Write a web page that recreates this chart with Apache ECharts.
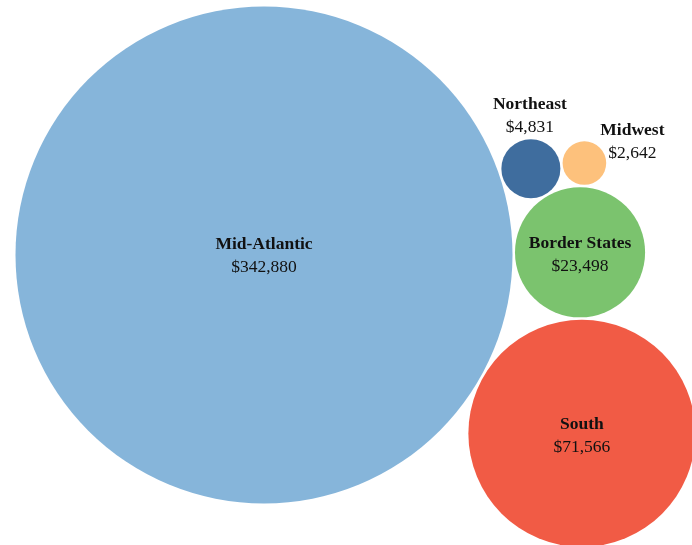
<!DOCTYPE html>
<html>
<head>
<meta charset="utf-8">
<style>html,body{margin:0;padding:0;background:#fff;}#c{width:692px;height:545px;}</style>
<script src="https://cdn.jsdelivr.net/npm/echarts@6/dist/echarts.min.js"></script>
</head>
<body>
<div id="c"></div>
<script>
// ---- data ----
var regions = ['Mid-Atlantic', 'South', 'Border States', 'Northeast', 'Midwest'];
var amounts = [342880, 71566, 23498, 4831, 2642];
var valueLabels = ['$342,880', '$71,566', '$23,498', '$4,831', '$2,642'];

// ---- styles / layout ----
var colors = ['#86b5da', '#f15b45', '#7bc36e', '#3f6d9e', '#fdc17c'];
var W = 692, H = 545;
var pxPerUnit = 248.5 / Math.sqrt(342880); // scale of radius = sqrt(value)
var anchorPx = [264, 255];                 // pixel position of the first bubble centre
var firstAngle = -29.3 * Math.PI / 180;    // direction to second bubble
var pad = 2.5 / pxPerUnit;                 // gap between bubbles
var labelOffsets = [[0, 1], [0, 3], [0, 3], [-1, -53], [48, -21]];

// ---- packing: each bubble tangent to two previous ones ----
var radii = amounts.map(function (v) { return Math.sqrt(v); });
var pos = [];
pos[0] = [0, 0];
var d01 = radii[0] + radii[1] + pad;
pos[1] = [Math.cos(firstAngle) * d01, Math.sin(firstAngle) * d01];
function tangent(ia, ib, r) {
  var a = pos[ia], b = pos[ib];
  var da = radii[ia] + r + pad, db = radii[ib] + r + pad;
  var dx = b[0] - a[0], dy = b[1] - a[1];
  var d = Math.sqrt(dx * dx + dy * dy);
  var ex = dx / d, ey = dy / d;
  var x = (da * da - db * db + d * d) / (2 * d);
  var h = Math.sqrt(Math.max(0, da * da - x * x));
  return [a[0] + ex * x - ey * h, a[1] + ey * x + ex * h];
}
pos[2] = tangent(0, 1, radii[2]);
pos[3] = tangent(0, 2, radii[3]);
pos[4] = tangent(3, 2, radii[4]);

var xMin = -anchorPx[0] / pxPerUnit, xMax = xMin + W / pxPerUnit;
var yMax = anchorPx[1] / pxPerUnit, yMin = yMax - H / pxPerUnit;

var data = regions.map(function (name, i) {
  return {
    name: name,
    value: [pos[i][0], pos[i][1], amounts[i]],
    itemStyle: { color: colors[i], opacity: 1 },
    label: {
      offset: labelOffsets[i],
      formatter: '{n|' + name + '}\n{v|' + valueLabels[i] + '}'
    }
  };
});

var chart = echarts.init(document.getElementById('c'), null, { renderer: 'canvas' });
chart.setOption({
  animation: false,
  backgroundColor: '#ffffff',
  grid: { left: 0, right: 0, top: 0, bottom: 0 },
  xAxis: { type: 'value', min: xMin, max: xMax, show: false },
  yAxis: { type: 'value', min: yMin, max: yMax, show: false },
  series: [{
    type: 'scatter',
    symbol: 'circle',
    symbolSize: function (val) { return 2 * Math.sqrt(val[2]) * pxPerUnit; },
    data: data,
    itemStyle: { opacity: 1 },
    emphasis: { disabled: true },
    label: {
      show: true,
      position: 'inside',
      align: 'center',
      verticalAlign: 'middle',
      color: '#111',
      textBorderWidth: 0,
      rich: {
        n: { fontFamily: 'Liberation Serif', fontWeight: 'bold', fontSize: 17.5, color: '#111', lineHeight: 23, align: 'center', textBorderWidth: 0 },
        v: { fontFamily: 'Liberation Serif', fontWeight: 'normal', fontSize: 17.5, color: '#111', lineHeight: 23, align: 'center', textBorderWidth: 0 }
      }
    }
  }]
});
</script>
</body>
</html>
